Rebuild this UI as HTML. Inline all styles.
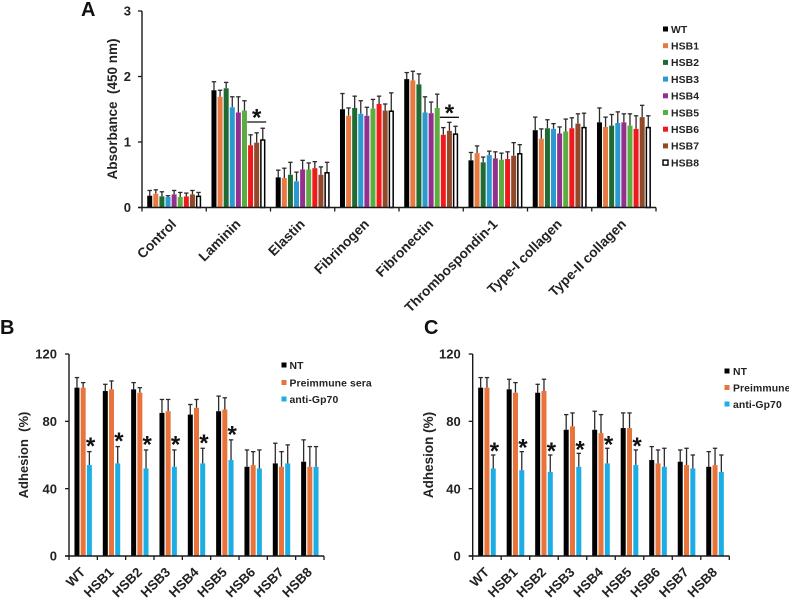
<!DOCTYPE html>
<html lang="en">
<head>
<meta charset="utf-8">
<title>Adhesion charts</title>
<style>
html,body{margin:0;padding:0;background:#fff;}
svg{display:block;font-family:"Liberation Sans",Arial,sans-serif;font-weight:bold;fill:#222;}
</style>
</head>
<body>
<svg id="figure" xmlns="http://www.w3.org/2000/svg" width="789" height="600" viewBox="0 0 789 600"></svg>
<script>
const substrateCategories = ["Control","Laminin","Elastin","Fibrinogen","Fibronectin","Thrombospondin-1","Type-I collagen","Type-II collagen"];
const strainSeries = ["WT","HSB1","HSB2","HSB3","HSB4","HSB5","HSB6","HSB7","HSB8"];
const strainColors = ["#000000","#E67A41","#1F6B33","#2A9AD0","#93308F","#5CAD40","#F01A1E","#92492A","#FFFFFF"];
const absorbanceTicks = [0,1,2,3];
const absorbanceValues = [
 [0.18,0.21,0.17,0.16,0.20,0.16,0.17,0.20,0.17],
 [1.79,1.69,1.82,1.53,1.45,1.48,0.95,0.99,1.03],
 [0.46,0.45,0.50,0.40,0.58,0.58,0.60,0.50,0.53],
 [1.50,1.40,1.52,1.43,1.40,1.51,1.58,1.48,1.47],
 [1.96,1.94,1.88,1.45,1.44,1.52,1.11,1.17,1.12],
 [0.72,0.83,0.69,0.80,0.75,0.73,0.74,0.79,0.82],
 [1.18,1.05,1.21,1.20,1.13,1.16,1.21,1.28,1.22],
 [1.30,1.23,1.25,1.29,1.30,1.25,1.20,1.38,1.22]
];
const absorbanceErrorTops = [
 [0.26,0.27,0.24,0.18,0.26,0.23,0.22,0.26,0.23],
 [1.92,1.79,1.91,1.69,1.69,1.63,1.11,1.14,1.21],
 [0.57,0.60,0.69,0.54,0.72,0.68,0.70,0.62,0.69],
 [1.74,1.52,1.70,1.63,1.53,1.65,1.70,1.58,1.75],
 [2.06,2.08,2.04,1.69,1.61,1.73,1.22,1.30,1.24],
 [0.84,0.94,0.77,0.86,0.85,0.83,0.85,0.99,0.96],
 [1.38,1.20,1.34,1.28,1.23,1.35,1.37,1.43,1.44],
 [1.52,1.38,1.42,1.46,1.43,1.43,1.40,1.56,1.40]
];
const adhesionTicks = [0,40,80,120];
const treatmentColors = ["#000000","#E8743B","#1CADE4"];
const panelBSeries = ["NT","Preimmune sera","anti-Gp70"];
const panelBNT = [100,98,99,85,84,86,53,55,56];
const panelBNTTops = [106,102,103,93,90,95,63,67,69];
const panelBPre = [100,99,97,86,88,87,54,53,53];
const panelBPreTops = [103,104,100,93,93,94,62,62,65];
const panelBAnti = [54,55,52,53,55,57,52,55,53];
const panelBAntiTops = [62,65,63,63,64,69,63,66,65];
const panelCSeries = ["NT","Preimmune","anti-Gp70"];
const panelCNT = [100,99,97,75,75,76,57,56,53];
const panelCNTTops = [106,105,102,84,86,85,65,63,62];
const panelCPre = [100,97,98,77,73,76,55,54,54];
const panelCPreTops = [106,103,105,85,84,85,63,64,64];
const panelCAnti = [52,51,50,53,55,54,53,52,50];
const panelCAntiTops = [60,62,60,61,64,63,64,60,60];
const significantStrains = [0,1,2,3,4,5];
const bracketGroups = [1,4];
const bracketLevels = [1.305,1.377];

const NS = "http://www.w3.org/2000/svg";
const figure = document.getElementById("figure");
function make(tag, parent, attrs, text){
  const el = document.createElementNS(NS, tag);
  for (const k in attrs) el.setAttribute(k, attrs[k]);
  if (text !== undefined) el.textContent = text;
  parent.appendChild(el);
  return el;
}
function scaleY(v, maxV, y0, yTop){ return y0 - (v / maxV) * (y0 - yTop); }

function drawAxes(g, p){
  const yAxis = make("line", g, {x1:p.x0,x2:p.x0,y1:p.yTop,y2:p.y0,stroke:"#1a1a1a","stroke-width":1.4});
  
  
  const xAxis = make("line", g, {x1:p.x0-4,x2:p.x1,y1:p.y0,y2:p.y0,stroke:"#1a1a1a","stroke-width":1.5});
  
  
  p.ticks.forEach(function(t){
    const y = scaleY(t, p.maxV, p.y0, p.yTop);
    const tick = make("line", g, {x1:p.x0-4,x2:p.x0,y1:y,y2:y,stroke:"#1a1a1a","stroke-width":1.3});
    
    
    const label = make("text", g, {x:p.x0-p.tickGap,y:y+4.6,"text-anchor":"end","font-size":13}, String(t));
    
    
  });
  const n = p.categories.length;
  const band = (p.x1 - p.x0) / n;
  for (let i = 0; i <= n; i++){
    const x = p.x0 + i * band;
    const tick = make("line", g, {x1:x,x2:x,y1:p.y0,y2:p.y0+4,stroke:"#1a1a1a","stroke-width":1.3});
    
    
  }
  p.categories.forEach(function(c, i){
    const x = p.x0 + (i + 0.5) * band + p.labelDx;
    const y = p.y0 + p.labelDy;
    const label = make("text", g, {x:x,y:y,"text-anchor":"end","font-size":p.labelSize,transform:"rotate(-45 "+x+" "+y+")"}, c);
    
    
  });
  const title = make("text", g, {x:0,y:0,"text-anchor":"middle","font-size":p.titleSize,transform:"translate("+p.titleX+" "+p.titleY+") rotate(-90)"}, p.title);
  
  
}

function drawBar(g, p, groupIndex, seriesIndex, seriesCount, value, top, color){
  const band = (p.x1 - p.x0) / p.categories.length;
  const cx = p.x0 + (groupIndex + 0.5) * band + (seriesIndex - (seriesCount - 1) / 2) * p.step;
  const yVal = scaleY(value, p.maxV, p.y0, p.yTop);
  const yTop = scaleY(top, p.maxV, p.y0, p.yTop);
  const err = make("line", g, {x1:cx,x2:cx,y1:yVal,y2:yTop,stroke:"#2b2b2b","stroke-width":1.3});
  
  
  const cap = make("line", g, {x1:cx-2.2,x2:cx+2.2,y1:yTop,y2:yTop,stroke:"#2b2b2b","stroke-width":1.3});
  
  
  const isWhite = color === "#FFFFFF";
  const w = isWhite ? 3.8 : p.barW;
  const bar = make("rect", g, {x:cx-w/2,y:yVal,width:w,height:p.y0-yVal,fill:color});
  if (isWhite){ bar.setAttribute("stroke","#000"); bar.setAttribute("stroke-width","1.5"); }
  
  
}

function drawStar(g, x, cy){
  const star = make("text", g, {x:x,y:cy+10.5,"text-anchor":"middle","font-size":24,fill:"#111"}, "*");
  
  
}

function drawLegend(g, names, colors, x, ys, textX){
  names.forEach(function(name, i){
    const white = colors[i] === "#FFFFFF";
    const swatch = make("rect", g, {x:x-2.5,y:ys[i]-2.5,width:5,height:5,fill:colors[i]});
    if (white){ swatch.setAttribute("stroke","#000"); swatch.setAttribute("stroke-width","1.4"); }
    
    
    const label = make("text", g, {x:textX,y:ys[i]+3.8,"font-size":10.4,"letter-spacing":"0.1"}, name);
    
    
  });
}

function panelLabel(text, x, y){
  const t = make("text", figure, {x:x,y:y,"font-size":20,fill:"#111"}, text);
  
  
}

/* Panel A */
const pA = {x0:142,x1:656,y0:207.5,yTop:11,maxV:3,ticks:absorbanceTicks,categories:substrateCategories,step:6.1,barW:5,
  tickGap:11,labelDx:3,labelDy:17.5,labelSize:13.7,title:"Absorbance\u00A0 (450 nm)",titleSize:13.5,titleX:117,titleY:109};
const gA = make("g", figure, {});


absorbanceValues.forEach(function(row, g){
  row.forEach(function(v, s){
    drawBar(gA, pA, g, s, strainSeries.length, v, absorbanceErrorTops[g][s], strainColors[s]);
  });
});
drawAxes(gA, pA);
bracketGroups.forEach(function(group, i){
  const band = (pA.x1 - pA.x0) / pA.categories.length;
  const cx = pA.x0 + (group + 0.5) * band + 3 * pA.step;
  const y = scaleY(bracketLevels[i], pA.maxV, pA.y0, pA.yTop);
  const bracket = make("line", gA, {x1:cx-9.5,x2:cx+9.5,y1:y,y2:y,stroke:"#111","stroke-width":1.3});
  
  
  drawStar(gA, cx, y - 7);
});
drawLegend(gA, strainSeries, strainColors, 665.5,
  strainSeries.map(function(_, i){ return 29 + i * 16.7; }), 671);

/* Panels B and C */
function drawAdhesion(name, p, valueRows, topRows, series, legendX, legendYs, legendTextX, starGap){
  const g = make("g", figure, {});
  
  
  valueRows.forEach(function(vals, s){
    vals.forEach(function(v, i){
      drawBar(g, p, i, s, valueRows.length, v, topRows[s][i], treatmentColors[s]);
    });
  });
  drawAxes(g, p);
  const band = (p.x1 - p.x0) / p.categories.length;
  significantStrains.forEach(function(i){
    const cx = p.x0 + (i + 0.5) * band + p.step + 1.2;
    drawStar(g, cx, scaleY(topRows[2][i], p.maxV, p.y0, p.yTop) - starGap);
  });
  drawLegend(g, series, treatmentColors, legendX, legendYs, legendTextX);
}
const pB = {x0:69,x1:324,y0:556,yTop:354,maxV:120,ticks:adhesionTicks,categories:strainSeries,step:6.2,barW:5,
  tickGap:12,labelDx:3,labelDy:17,labelSize:13.3,title:"Adhesion\u00A0 (%)",titleSize:13,titleX:28,titleY:455};
const pC = {x0:472.7,x1:729.3,y0:556,yTop:354,maxV:120,ticks:adhesionTicks,categories:strainSeries,step:6.3,barW:5,
  tickGap:12,labelDx:3,labelDy:17,labelSize:13.3,title:"Adhesion (%)",titleSize:13.5,titleX:433,titleY:455};
drawAdhesion("panel-b-chart", pB, [panelBNT,panelBPre,panelBAnti], [panelBNTTops,panelBPreTops,panelBAntiTops],
  panelBSeries, 284, [365,382.5,399], 289.5, 8);
drawAdhesion("panel-c-chart", pC, [panelCNT,panelCPre,panelCAnti], [panelCNTTops,panelCPreTops,panelCAntiTops],
  panelCSeries, 727, [371,387.5,404], 733, 6.5);

panelLabel("A", 81, 16);
panelLabel("B", 0, 334);
panelLabel("C", 424, 334);
</script>
</body>
</html>
